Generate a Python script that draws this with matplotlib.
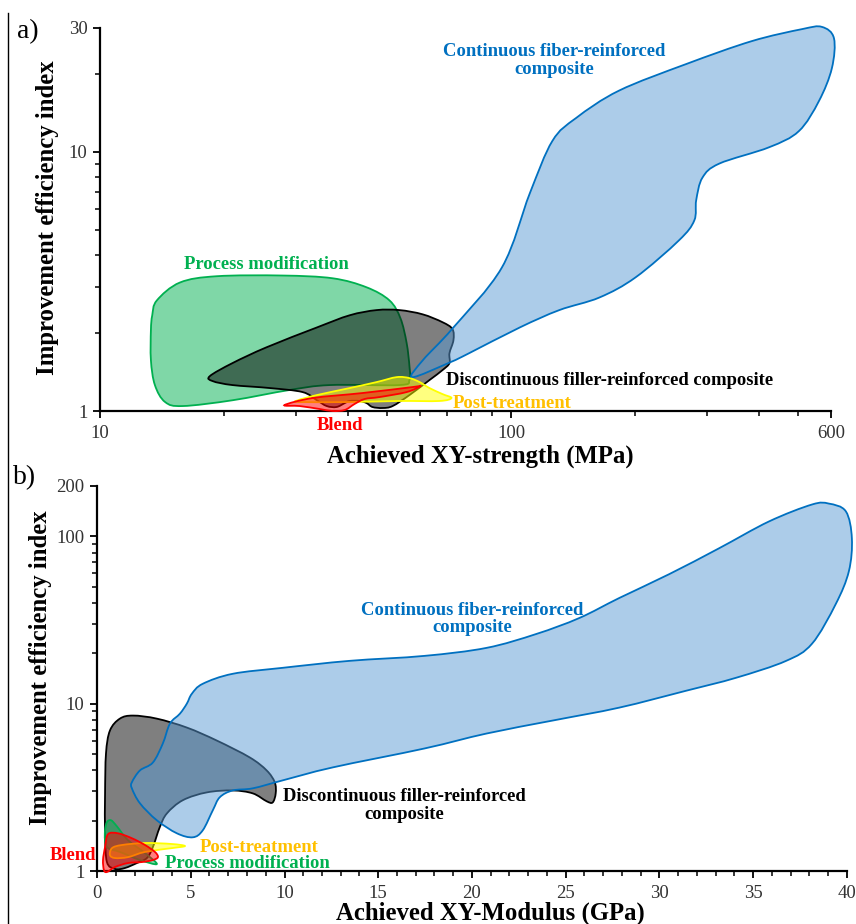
import numpy as np
import matplotlib.pyplot as plt
from matplotlib.path import Path
from matplotlib.patches import PathPatch
from matplotlib.lines import Line2D
from matplotlib.colors import to_rgba
from matplotlib.ticker import NullFormatter

plt.rcParams['font.family'] = ['Liberation Serif', 'DejaVu Serif']

# ---- a) achieved XY-strength (MPa) vs improvement efficiency index ----
cont_a_x = [57.5, 61, 72, 95, 111, 126, 144, 183, 267, 385, 510, 570, 610, 603,
            561, 501, 424, 321, 292, 282, 279, 256, 201, 164, 131, 105, 79, 71]
cont_a_y = [1.35, 1.57, 2.08, 3.58, 6.9, 11.0, 13.5, 17.2, 21.8, 26.7, 29.7, 30.3, 27.4, 21.0,
            15.7, 12.0, 10.4, 9.0, 7.94, 6.5, 5.43, 4.55, 3.28, 2.74, 2.45, 2.10, 1.67, 1.54]

proc_a_x = [13.75, 15.65, 19.24, 27.8, 36.8, 44.5, 50.6, 53.8, 55.7, 56.6, 56.6,
            53.5, 36.2, 28.9, 21.0, 15.9, 14.4, 13.6, 13.3, 13.3, 13.4]
proc_a_y = [2.67, 3.13, 3.31, 3.33, 3.25, 3.00, 2.67, 2.28, 1.83, 1.48, 1.316,
            1.259, 1.259, 1.205, 1.10, 1.045, 1.083, 1.259, 1.57, 2.05, 2.34]

disc_a_x = [18.5, 21.0, 25.4, 33.7, 40.5, 47.1, 53.5, 60.9, 68.1, 72.0, 72.4, 70.8, 70.8, 68.1, 63.3,
            56.6, 51.5, 48.7, 46.0, 44.5, 42.8, 40.5, 39.4, 37.6, 35.6, 33.7, 31.1, 25.9, 21.0, 18.8]
disc_a_y = [1.363, 1.53, 1.76, 2.10, 2.34, 2.45, 2.45, 2.36, 2.20, 2.07, 1.875, 1.67, 1.53, 1.438, 1.316,
            1.152, 1.045, 1.027, 1.036, 1.073, 1.093, 1.093, 1.073, 1.036, 1.045, 1.10, 1.183, 1.226, 1.259, 1.304]

post_a_x = [30.3, 33.7, 40.5, 47.1, 52.7, 56.6, 59.9, 63.3, 68.1, 71.6, 66.9, 53.5, 40.5, 30.6]
post_a_y = [1.10, 1.152, 1.226, 1.293, 1.351, 1.339, 1.293, 1.226, 1.162, 1.122, 1.093, 1.093, 1.083, 1.083]

blend_a_x = [28.1, 32.9, 43.5, 57.6, 60.2, 55.7, 47.9, 44.0, 41.6, 39.4, 36.8, 34.2, 30.6]
blend_a_y = [1.054, 1.122, 1.173, 1.237, 1.248, 1.183, 1.132, 1.112, 1.064, 1.009, 1.0, 1.018, 1.045]

# ---- b) achieved XY-modulus (GPa) vs improvement efficiency index ----
cont_b_x = [1.86, 2.29, 2.98, 3.51, 3.89, 4.42, 4.79, 5.06, 5.64, 7.24, 9.90, 13.47, 17.47, 20.77,
            23.43, 25.72, 27.85, 30.51, 33.17, 35.84, 38.13, 39.03, 39.94, 40.26, 40.10, 39.40,
            38.13, 36.74, 34.08, 31.42, 27.85, 24.28, 20.77, 17.47, 12.57, 9.90, 8.31, 7.24,
            6.55, 6.18, 5.64, 5.11, 4.26, 3.19, 2.29, 1.86]
cont_b_y = [3.39, 3.99, 4.45, 5.78, 7.60, 8.71, 10.0, 11.47, 13.15, 15.09, 16.38, 18.03, 19.31, 21.55,
            26.1, 32.5, 42.8, 59.4, 84.8, 122.8, 155, 157, 141, 97.3, 61.9, 39.4,
            22.8, 18.0, 14.28, 11.95, 9.47, 7.92, 6.63, 5.40, 4.16, 3.48, 3.12, 3.03,
            2.76, 2.31, 1.75, 1.59, 1.68, 2.01, 2.54, 3.12]

disc_b_x = [1.92, 3.19, 4.79, 6.39, 8.15, 9.05, 9.48, 9.53, 9.37, 9.05, 8.31, 7.24, 5.86, 4.58,
            3.73, 3.35, 2.98, 2.66, 2.13, 1.49, 0.96, 0.53, 0.43, 0.43, 0.48, 0.69, 1.22]
disc_b_y = [8.49, 8.14, 7.20, 6.02, 4.77, 3.99, 3.39, 2.91, 2.57, 2.61, 2.91, 3.03, 2.95, 2.65,
            2.21, 1.83, 1.39, 1.195, 1.116, 1.042, 1.028, 1.131, 1.68, 2.91, 5.04, 6.91, 8.14]

proc_b_x = [0.43, 0.53, 0.75, 1.06, 1.65, 2.56, 3.19, 2.29, 1.22, 0.59, 0.43]
proc_b_y = [1.75, 1.96, 2.01, 1.85, 1.53, 1.28, 1.10, 1.163, 1.30, 1.37, 1.53]

blend_b_x = [0.59, 1.12, 1.86, 2.56, 3.09, 3.25, 2.98, 2.40, 1.65, 0.96, 0.53, 0.37, 0.32, 0.43]
blend_b_y = [1.66, 1.68, 1.57, 1.43, 1.30, 1.21, 1.163, 1.131, 1.116, 1.056, 0.986, 1.014, 1.163, 1.39]

post_b_x = [1.33, 2.56, 3.99, 4.69, 3.99, 2.56, 1.65, 0.96, 0.69, 0.80]
post_b_y = [1.43, 1.47, 1.45, 1.41, 1.37, 1.30, 1.21, 1.195, 1.245, 1.37]

BLUE, GREEN, RED, GOLD = '#0070C0', '#00B050', '#FF0000', '#FFC000'


def blob(ax, xs, ys, logx, face, edge, alpha, z, lw=1.3):
    # closed Catmull-Rom outline, built in log space so it stays smooth on log axes
    u = np.log10(xs) if logx else np.asarray(xs, float)
    pts = np.column_stack([u, np.log10(ys)])
    n = len(pts)
    verts = [pts[0]]
    for i in range(n):
        p0, p1, p2, p3 = pts[i - 1], pts[i], pts[(i + 1) % n], pts[(i + 2) % n]
        verts += [p1 + (p2 - p0) / 6, p2 - (p3 - p1) / 6, p2]
    verts = np.array(verts)
    if logx:
        verts[:, 0] = 10 ** verts[:, 0]
    verts[:, 1] = 10 ** verts[:, 1]
    verts = np.vstack([verts, verts[:1]])
    codes = [Path.MOVETO] + [Path.CURVE4] * (3 * n) + [Path.CLOSEPOLY]
    patch = PathPatch(Path(verts, codes), facecolor=to_rgba(face, alpha),
                      edgecolor=edge, lw=lw, zorder=z, clip_on=False)
    ax.add_patch(patch)


def style_axes(ax):
    for s in ['top', 'right']:
        ax.spines[s].set_visible(False)
    for s in ['left', 'bottom']:
        ax.spines[s].set_linewidth(1.6)
    ax.tick_params(which='major', direction='out', length=5, width=1.3,
                   labelsize=13.5, labelcolor='#333333')
    ax.tick_params(which='minor', direction='out', length=3.5, width=1.1)
    ax.tick_params(axis='y', pad=4)
    ax.tick_params(axis='x', pad=5)
    ax.set_facecolor('none')


fig = plt.figure(figsize=(8.56, 9.24), dpi=100)
fig.add_artist(Line2D([8 / 856, 8 / 856], [0, 1 - 13 / 924], color='black', lw=1))

# panel a
ax1 = fig.add_axes([100 / 856, 1 - 411 / 924, 731 / 856, 383 / 924])
ax1.set_xscale('log')
ax1.set_yscale('log')
ax1.set_xlim(10, 600)
ax1.set_ylim(1, 30)
ax1.set_xticks([10, 100, 600])
ax1.set_xticklabels(['10', '100', '600'])
ax1.set_xticks([20, 30, 40, 50, 60, 70, 80, 90, 200, 300, 400, 500], minor=True)
ax1.set_yticks([1, 10, 30])
ax1.set_yticklabels(['1', '10', '30'])
ax1.set_yticks([2, 3, 4, 5, 6, 7, 8, 9, 20], minor=True)
ax1.xaxis.set_minor_formatter(NullFormatter())
ax1.yaxis.set_minor_formatter(NullFormatter())
style_axes(ax1)

blob(ax1, proc_a_x, proc_a_y, True, GREEN, GREEN, 0.5, 2)
blob(ax1, disc_a_x, disc_a_y, True, 'black', 'black', 0.5, 3)
blob(ax1, cont_a_x, cont_a_y, True, '#5B9BD5', BLUE, 0.5, 4)
blob(ax1, post_a_x, post_a_y, True, '#FFFF00', '#FFFF00', 0.5, 5)
blob(ax1, blend_a_x, blend_a_y, True, RED, RED, 0.5, 6)

tk = dict(fontweight='bold', fontsize=13.4)
ax1.text(127, 22.5, 'Continuous fiber-reinforced\ncomposite', color=BLUE, ha='center',
         va='center', linespacing=1.05, **tk)
ax1.text(25.4, 3.68, 'Process modification', color=GREEN, ha='center', va='center', **tk)
ax1.text(69.6, 1.316, 'Discontinuous filler-reinforced composite', color='black',
         ha='left', va='center', **tk)
ax1.text(72.0, 1.073, 'Post-treatment', color=GOLD, ha='left', va='center', **tk)
ax1.text(38.3, 0.876, 'Blend', color=RED, ha='center', va='center', **tk)

lab = dict(fontweight='bold', fontsize=17.8)
ax1.text(0.52, -0.118, 'Achieved XY-strength (MPa)', ha='center', va='center',
         transform=ax1.transAxes, **lab)
ax1.text(-0.0725, 0.504, 'Improvement efficiency index', ha='center', va='center',
         rotation=90, transform=ax1.transAxes, **lab)
fig.text(17 / 856, 1 - 32 / 924, 'a)', fontsize=20, ha='left', va='center')

# panel b
ax2 = fig.add_axes([97 / 856, 1 - 871 / 924, 750 / 856, 385 / 924])
ax2.set_yscale('log')
ax2.set_xlim(0, 40)
ax2.set_ylim(1, 200)
ax2.set_xticks(np.arange(0, 41, 5))
ax2.set_xticks(np.arange(0, 41, 1), minor=True)
ax2.set_yticks([1, 10, 100, 200])
ax2.set_yticklabels(['1', '10', '100', '200'])
ax2.set_yticks([2, 3, 4, 5, 6, 7, 8, 9, 20, 30, 40, 50, 60, 70, 80, 90], minor=True)
ax2.yaxis.set_minor_formatter(NullFormatter())
style_axes(ax2)

blob(ax2, disc_b_x, disc_b_y, False, 'black', 'black', 0.5, 2)
blob(ax2, cont_b_x, cont_b_y, False, '#5B9BD5', BLUE, 0.5, 3)
blob(ax2, proc_b_x, proc_b_y, False, GREEN, GREEN, 0.5, 4)
blob(ax2, post_b_x, post_b_y, False, '#FFFF00', '#FFFF00', 0.5, 5)
blob(ax2, blend_b_x, blend_b_y, False, RED, RED, 0.5, 6)

ax2.text(20.0, 32, 'Continuous fiber-reinforced\ncomposite', color=BLUE, ha='center',
         va='center', linespacing=1.05, **tk)
ax2.text(16.4, 2.47, 'Discontinuous filler-reinforced\ncomposite', color='black',
         ha='center', va='center', linespacing=1.05, **tk)
ax2.text(5.48, 1.39, 'Post-treatment', color=GOLD, ha='left', va='center', **tk)
ax2.text(3.62, 1.116, 'Process modification', color=GREEN, ha='left', va='center', **tk)
ax2.text(-0.05, 1.245, 'Blend', color=RED, ha='right', va='center', **tk)

ax2.text(0.524, -0.109, 'Achieved XY-Modulus (GPa)', ha='center', va='center',
         transform=ax2.transAxes, **lab)
ax2.text(-0.0747, 0.527, 'Improvement efficiency index', ha='center', va='center',
         rotation=90, transform=ax2.transAxes, **lab)
fig.text(13 / 856, 1 - 478 / 924, 'b)', fontsize=20, ha='left', va='center')

fig.savefig('out.png', dpi=100)
